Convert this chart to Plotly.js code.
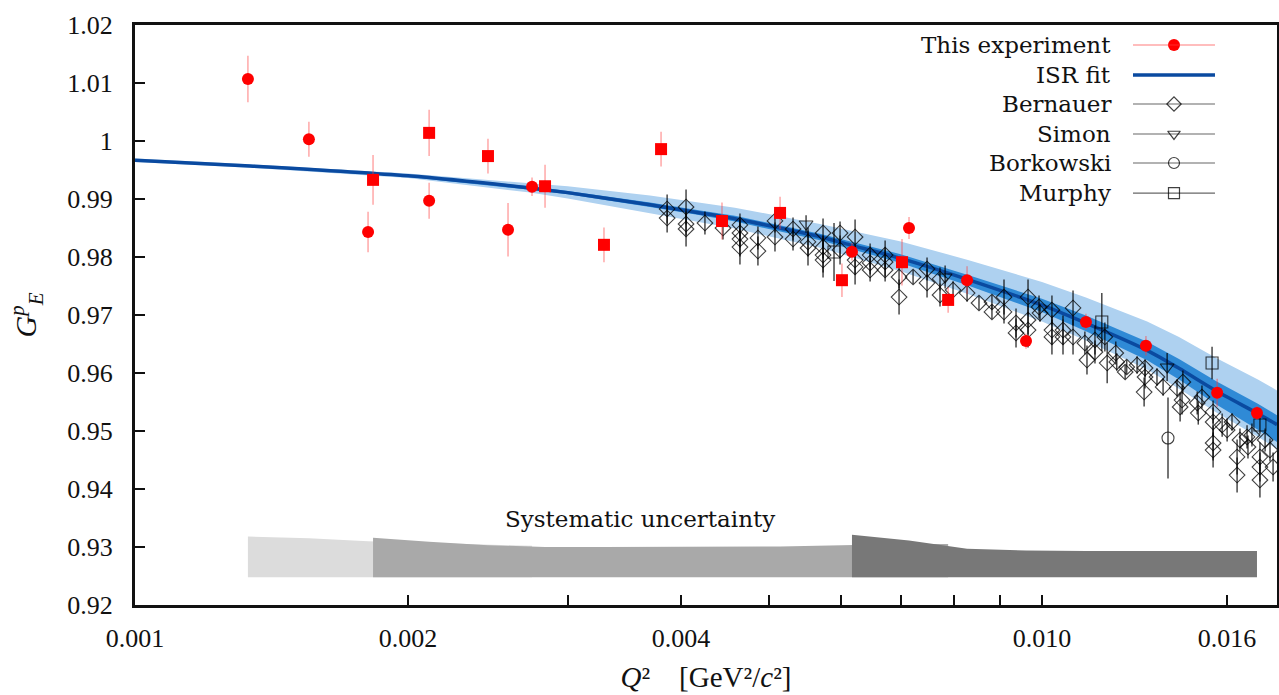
<!DOCTYPE html>
<html>
<head>
<meta charset="utf-8">
<script src="https://cdn.plot.ly/plotly-3.0.1.min.js"></script>
<style>html,body{margin:0;padding:0;background:#fff;}#chart{width:1279px;height:695px;}</style>
</head>
<body>
<div id="chart"></div>
<script>
// ---------- data ----------
// This experiment, circles, lower-Q2 set
var expA_Q2 = [0.001332, 0.001555, 0.001807, 0.002110, 0.002578, 0.002740];
var expA_G  = [1.0107, 1.0003, 0.9843, 0.9897, 0.9847, 0.9921];
var expA_err= [0.0040, 0.0030, 0.0035, 0.0031, 0.0046, 0.0016];
// This experiment, squares
var expS_Q2 = [0.001830, 0.002110, 0.002450, 0.002832, 0.003289, 0.003802, 0.004438, 0.005143, 0.006018, 0.007009, 0.007880];
var expS_G  = [0.9933, 1.0014, 0.9974, 0.9922, 0.9821, 0.9986, 0.9862, 0.9876, 0.9760, 0.9791, 0.9726];
var expS_err= [0.0043, 0.0040, 0.0030, 0.0037, 0.0030, 0.0030, 0.0032, 0.0028, 0.0029, 0.0040, 0.0022];
// This experiment, circles, higher-Q2 set
var expB_Q2 = [0.006173, 0.007135, 0.008268, 0.009603, 0.01118, 0.01302, 0.01560, 0.01726];
var expB_G  = [0.9809, 0.9850, 0.9760, 0.9655, 0.9688, 0.9647, 0.9566, 0.9531];
var expB_err= [0.0015, 0.0019, 0.0024, 0.0013, 0.0014, 0.0017, 0.0024, 0.0012];

// ISR fit and its bands (offsets above / below the fit line)
var fitQ2 = [0.001, 0.001339, 0.002, 0.002726, 0.003, 0.003697, 0.0042, 0.004586, 0.005691, 0.006173, 0.00697, 0.008287, 0.0100, 0.01118, 0.01306, 0.01416, 0.0156, 0.0173, 0.01816];
var fitG  = [0.9967, 0.9957, 0.9940, 0.9919, 0.9911, 0.9890, 0.9876, 0.9866, 0.9835, 0.9820, 0.9798, 0.9761, 0.9717, 0.9686, 0.9639, 0.9608, 0.9568, 0.9530, 0.9511];
var outerUp = [0.0003, 0.0003, 0.0004, 0.0009, 0.0011, 0.0016, 0.0018, 0.0019, 0.0022, 0.0025, 0.0029, 0.0034, 0.0040, 0.0044, 0.0050, 0.0054, 0.0057, 0.0059, 0.0059];
var outerDn = [0.0003, 0.0003, 0.0004, 0.0008, 0.0010, 0.0015, 0.0016, 0.0017, 0.0019, 0.0020, 0.0022, 0.0025, 0.0028, 0.0030, 0.0033, 0.0035, 0.0037, 0.0040, 0.0042];
var innerUp = [0.0001, 0.0001, 0.0002, 0.0003, 0.0003, 0.0004, 0.0004, 0.0005, 0.0005, 0.0006, 0.0007, 0.0008, 0.0011, 0.0013, 0.0015, 0.0016, 0.0017, 0.0017, 0.0016];
var innerDn = [0.0001, 0.0001, 0.0002, 0.0003, 0.0003, 0.0004, 0.0004, 0.0005, 0.0006, 0.0007, 0.0008, 0.0010, 0.0012, 0.0014, 0.0017, 0.0019, 0.0023, 0.0028, 0.0030];

// Bernauer (Q2 in units of 1e-3 GeV^2/c^2)
var bernQ2 = [3.861,3.861,4.051,4.051,4.051,4.250,4.449,4.645,4.645,4.645,4.645,4.862,4.862,5.077,5.077,5.315,5.315,5.521,5.521,5.736,5.736,5.736,5.736,5.989,5.989,6.222,6.222,6.222,6.464,6.464,6.464,6.715,6.715,6.715,6.957,6.957,7.209,7.469,7.469,7.719,7.719,7.979,8.268,8.522,8.807,8.807,9.081,9.081,9.362,9.362,9.652,9.652,9.652,9.925,9.95,10.256,10.256,10.256,10.548,10.548,10.82,10.82,11.15,11.21,11.44,11.44,11.73,11.80,12.06,12.09,12.35,12.40,12.73,12.99,12.99,12.96,13.39,13.60,14.09,14.30,14.27,14.20,14.83,14.87,15.01,15.44,15.44,15.44,15.44,15.80,16.00,16.20,16.41,16.41,16.53,16.83,16.87,17.04,17.39,17.39,17.39,17.62,17.84,17.98];
var bernG  = [0.98828,0.98672,0.98862,0.98569,0.98483,0.98586,0.98500,0.98552,0.98414,0.98310,0.98172,0.98328,0.98103,0.98621,0.98345,0.98483,0.98310,0.98259,0.98155,0.98414,0.98172,0.98034,0.97948,0.98414,0.98121,0.98345,0.97948,0.97828,0.98034,0.97897,0.97776,0.98034,0.97914,0.97776,0.97655,0.97310,0.97655,0.97793,0.97552,0.97345,0.97621,0.97431,0.97379,0.97207,0.97224,0.97052,0.97310,0.97052,0.96862,0.96690,0.97310,0.96914,0.96741,0.97138,0.97034,0.97086,0.96741,0.96621,0.96741,0.96621,0.97121,0.96621,0.96517,0.96224,0.96569,0.96362,0.96621,0.96172,0.96345,0.96190,0.96017,0.96103,0.96138,0.96086,0.95931,0.95672,0.95931,0.95759,0.95741,0.95845,0.95534,0.95414,0.95483,0.95310,0.95586,0.95328,0.95155,0.94793,0.94672,0.95103,0.95017,0.95155,0.94552,0.94241,0.94845,0.94897,0.94724,0.94931,0.94552,0.94379,0.94155,0.94845,0.94672,0.94379];
var bernErr= [0.0025,0.0025,0.0030,0.0020,0.0030,0.0020,0.0020,0.0020,0.0025,0.0030,0.0030,0.0020,0.0025,0.0020,0.0025,0.0020,0.0020,0.0025,0.0030,0.0025,0.0020,0.0030,0.0030,0.0020,0.0025,0.0030,0.0025,0.0030,0.0020,0.0020,0.0020,0.0025,0.0025,0.0020,0.0020,0.0030,0.0012,0.0020,0.0025,0.0020,0.0020,0.0015,0.0015,0.0012,0.0012,0.0012,0.0030,0.0020,0.0025,0.0025,0.0030,0.0025,0.0030,0.0020,0.0015,0.0025,0.0025,0.0030,0.0025,0.0030,0.0030,0.0030,0.0020,0.0025,0.0025,0.0020,0.0025,0.0035,0.0020,0.0015,0.0012,0.0012,0.0015,0.0015,0.0020,0.0025,0.0015,0.0015,0.0015,0.0020,0.0025,0.0025,0.0020,0.0020,0.0020,0.0020,0.0025,0.0030,0.0030,0.0020,0.0020,0.0015,0.0030,0.0030,0.0020,0.0020,0.0020,0.0020,0.0025,0.0025,0.0030,0.0020,0.0020,0.0025];
// Simon
var simonQ2 = [0.005494, 0.00782, 0.01374];
var simonG  = [0.98569, 0.97655, 0.96103];
var simonErr= [0.0015, 0.0020, 0.0024];
// Borkowski
var borkQ2 = [0.01377];
var borkG  = [0.94879];
var borkErr= [0.0070];
// Murphy
var murphyQ2 = [0.005898, 0.01164, 0.01540, 0.01739];
var murphyG  = [0.98086, 0.96879, 0.96172, 0.95103];
var murphyErr= [0.0050, 0.0050, 0.0028, 0.0015];

// Systematic uncertainty bands (tops), bottom level
var sysBase = 0.9248;
var sysA_top = [0.9318, 0.9315, 0.9310, 0.9307, 0.9303, 0.9302];
var sysS_top = [0.9316, 0.9309, 0.9303, 0.9300, 0.9300, 0.9300, 0.9300, 0.9301, 0.9303, 0.9305, 0.9305];
var sysB_top = [0.9321, 0.9311, 0.9297, 0.9294, 0.9293, 0.9293, 0.9293, 0.9293];

var xMin = 0.001, xMax = 0.01816, yMin = 0.92, yMax = 1.02;
var xTickVals = [0.001, 0.002, 0.004, 0.010, 0.016];
var xTickText = ['0.001', '0.002', '0.004', '0.010', '0.016'];
var xMinorVals = [0.003, 0.005, 0.006, 0.007, 0.008, 0.009];
var yTickVals = [0.92,0.93,0.94,0.95,0.96,0.97,0.98,0.99,1.00,1.01,1.02];
var yTickText = ['0.92','0.93','0.94','0.95','0.96','0.97','0.98','0.99','1','1.01','1.02'];

var legendNames = ['This experiment','ISR fit','Bernauer','Simon','Borkowski','Murphy'];

// ---------- styling ----------
var FONT = '"Liberation Serif", "Times New Roman", serif';
var FONT_W = '"DejaVu Serif", "Liberation Serif", serif';
var RED = '#ff0000', REDERR = 'rgba(255,60,60,0.45)';
var BLK = 'rgba(0,0,0,0.75)', BLKERR = 'rgba(0,0,0,0.72)';
var C_OUT = '#aed1f0', C_IN = '#2f8ad6', C_LINE = '#0a4aa0';

function band(xs, up, dn, color) {
  var xx = xs.concat(xs.slice().reverse());
  var yy = up.concat(dn.slice().reverse());
  return {x: xx, y: yy, type: 'scatter', mode: 'lines', fill: 'toself', fillcolor: color,
          line: {width: 0, color: color}, hoverinfo: 'skip', showlegend: false};
}
function sysBand(xs, tops, color) {
  var base = xs.map(function(){return sysBase;});
  return band(xs, tops, base, color);
}
function addOff(a, b, s){ return a.map(function(v,i){return v + s*b[i];}); }

var traces = [];
traces.push(sysBand(expA_Q2, sysA_top, '#dcdcdc'));
traces.push(sysBand(expS_Q2, sysS_top, '#a9a9a9'));
traces.push(sysBand(expB_Q2, sysB_top, '#787878'));
traces.push(band(fitQ2, addOff(fitG, outerUp, 1), addOff(fitG, outerDn, -1), C_OUT));
traces.push(band(fitQ2, addOff(fitG, innerUp, 1), addOff(fitG, innerDn, -1), C_IN));
traces.push({x: fitQ2, y: fitG, type:'scatter', mode:'lines', line:{color:C_LINE, width:3.5, shape:'spline', smoothing:0.6}, showlegend:false});

function pts(xs, ys, es, sym, size, color, ecolor, lw) {
  return {x: xs, y: ys, type:'scatter', mode:'markers', showlegend:false,
    marker:{symbol: sym, size: size, color: color, line:{color: color, width: lw}},
    error_y:{type:'data', array: es, visible:true, color: ecolor, thickness:1.5, width:0}};
}
traces.push(pts(bernQ2.map(function(v){return v*1e-3;}), bernG, bernErr, 'diamond-open', 12, BLK, BLKERR, 1.1));
traces.push(pts(simonQ2, simonG, simonErr, 'triangle-down-open', 12, BLK, BLKERR, 1.1));
traces.push(pts(borkQ2, borkG, borkErr, 'circle-open', 12, BLK, BLKERR, 1.1));
traces.push(pts(murphyQ2, murphyG, murphyErr, 'square-open', 12, BLK, BLKERR, 1.1));
traces.push(pts(expA_Q2, expA_G, expA_err, 'circle', 12, RED, REDERR, 0));
traces.push(pts(expS_Q2, expS_G, expS_err, 'square', 12, RED, REDERR, 0));
traces.push(pts(expB_Q2, expB_G, expB_err, 'circle', 12, RED, REDERR, 0));

// ---------- hand-made legend (symbol to the right of the text), placed in plot fractions ----------
var legTextX = 0.8555, legLineX0 = 0.8739, legLineX1 = 0.9457, legMarkX = 0.9098;
var legRowY = [0.9655, 0.9138, 0.8638, 0.8121, 0.7621, 0.7103];
var legLineColor = [REDERR, C_LINE, 'rgba(0,0,0,0.6)', 'rgba(0,0,0,0.6)', 'rgba(0,0,0,0.6)', 'rgba(0,0,0,0.6)'];
var legLineW = [1.5, 3.5, 1.2, 1.2, 1.2, 1.2];
var legSym = ['circle', null, 'diamond-open', 'triangle-down-open', 'circle-open', 'square-open'];
var legSymSize = [12, 0, 11, 11, 11, 11];
var legSymColor = [RED, null, BLK, BLK, BLK, BLK];

function fracToX(f){ var a = Math.log10(xMin), b = Math.log10(xMax); return Math.pow(10, a + f*(b-a)); }
function fracToY(f){ return yMin + f*(yMax-yMin); }

var shapes = [], annotations = [];
legendNames.forEach(function(n, i){
  annotations.push({xref:'paper', yref:'paper', x: legTextX, y: legRowY[i], xanchor:'right', yanchor:'middle',
    text: n, showarrow:false, borderpad:0, font:{family:FONT_W, size:23, color:'#111'}});
  shapes.push({type:'line', xref:'paper', yref:'paper', x0: legLineX0, x1: legLineX1, y0: legRowY[i], y1: legRowY[i],
    line:{color: legLineColor[i], width: legLineW[i]}});
  if (legSym[i]) {
    traces.push({x:[fracToX(legMarkX)], y:[fracToY(legRowY[i])], type:'scatter', mode:'markers', showlegend:false,
      marker:{symbol: legSym[i], size: legSymSize[i], color: legSymColor[i], line:{color: legSymColor[i], width: i===0?0:1.2}}});
  }
});
annotations.push({xref:'paper', yref:'y', x: 0.442, y: 0.9349, text:'Systematic uncertainty', showarrow:false,
  xanchor:'center', yanchor:'middle', font:{family:FONT_W, size:23, color:'#111'}});

var layout = {
  width: 1279, height: 695,
  margin: {l:135, r:2, t:25, b:90, pad:0},
  paper_bgcolor:'#fff', plot_bgcolor:'#fff',
  showlegend:false,
  font:{family:FONT, color:'#111'},
  xaxis:{type:'log', range:[Math.log10(xMin), Math.log10(xMax)], tickmode:'array', tickvals:xTickVals, ticktext:xTickText,
    ticks:'inside', ticklen:10, tickwidth:2, tickcolor:'#111', showline:true, linecolor:'#111', linewidth:3, mirror:true,
    minor:{tickmode:'array', tickvals:xMinorVals, ticks:'inside', ticklen:10, tickwidth:2, tickcolor:'#111', showgrid:false},
    showgrid:false, zeroline:false, tickfont:{family:FONT, size:26, color:'#111'}, ticklabelstandoff:8,
    title:{text:'<i>Q</i>²    [GeV²/<i>c</i>²]', font:{family:FONT, size:29, color:'#111'}, standoff:15}},
  yaxis:{range:[yMin, yMax], tickmode:'array', tickvals:yTickVals, ticktext:yTickText,
    ticks:'inside', ticklen:10, tickwidth:2, tickcolor:'#111', showline:true, linecolor:'#111', linewidth:3, mirror:true,
    showgrid:false, zeroline:false, tickfont:{family:FONT, size:26, color:'#111'}, ticklabelstandoff:14,
    title:{text:'<i>G</i><sup><i>p</i></sup><sub><i>E</i></sub>', font:{family:FONT, size:30, color:'#111'}, standoff:22}},
  shapes: shapes,
  annotations: annotations
};

Plotly.newPlot('chart', traces, layout, {staticPlot:true, displayModeBar:false});
</script>
</body>
</html>
